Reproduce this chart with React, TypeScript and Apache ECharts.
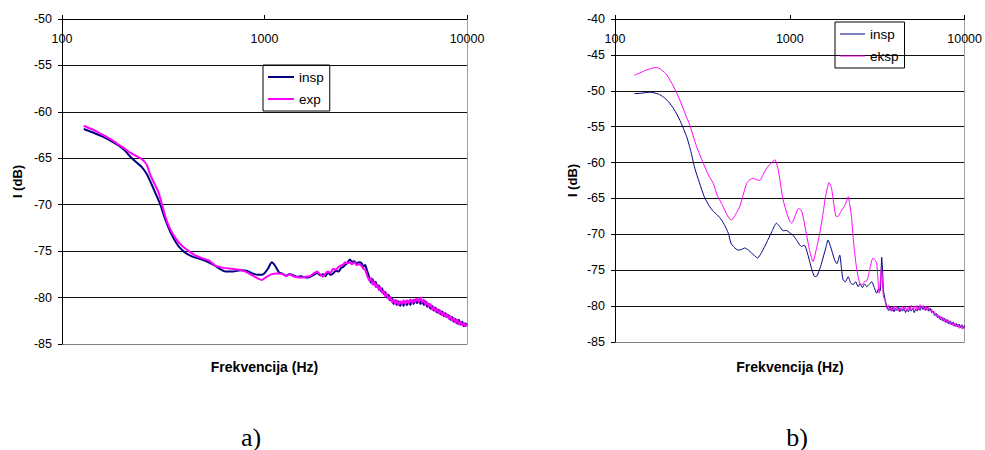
import React, { useEffect, useRef } from "react";
import * as echarts from "echarts";

// ---------- data: chart a) ----------
const A_INSP_FREQ = [128, 145, 158, 175, 191, 205, 217, 232, 248, 262, 273, 290, 306, 320, 336, 355, 377, 400, 423, 455, 491, 530, 572, 605, 641, 700, 760, 816, 870, 930, 985, 1040, 1085, 1130, 1180, 1220, 1280, 1330, 1386, 1450, 1520, 1590, 1674, 1750, 1820, 1880, 1943, 2000, 2060, 2120, 2181, 2250, 2320, 2390, 2446, 2500, 2560, 2640, 2700, 2780, 2850, 2920, 3020, 3080, 3140, 3200,
  3300, 3360, 3420, 3480, 3540, 3600, 3670, 3740, 3810, 3880, 3950, 4020, 4100, 4180, 4260, 4340, 4420, 4500, 4590, 4680, 4770, 4860, 4950, 5050, 5150, 5250, 5350, 5450, 5560, 5670, 5780, 5890, 6000, 6120, 6240, 6360, 6480, 6600, 6730, 6860, 6990, 7120, 7260, 7400, 7540, 7680, 7830, 7980, 8130, 8290, 8450, 8610, 8780, 8950, 9120, 9300, 9480, 9660, 9840, 10000];
const A_INSP_DB = [-61.85, -62.3, -62.65, -63.15, -63.65, -64.2, -64.8, -65.4, -65.95, -66.7, -67.5, -68.8, -70.0, -71.3, -72.5, -73.6, -74.5, -75.05, -75.4, -75.7, -75.9, -76.2, -76.6, -76.95, -77.2, -77.2, -77.05, -77.1, -77.4, -77.55, -77.5, -76.9, -76.2, -76.6, -77.3, -77.4, -77.65, -77.45, -77.6, -77.75, -77.7, -77.85, -77.8, -77.55, -77.35, -77.6, -77.5, -77.7, -77.3, -77.55, -77.4, -77.1, -77.2, -76.8, -76.7, -76.5, -76.3, -75.9, -76.15, -76.1, -76.35, -76.2, -76.3, -76.7, -76.5, -77.0,
  -77.9, -78.4, -78.0, -78.6, -78.3, -78.9, -78.7, -79.3, -79.0, -79.6, -79.4, -80.0, -79.7, -80.3, -80.1, -80.7, -80.3, -80.8, -80.4, -80.9, -80.5, -80.9, -80.4, -80.8, -80.4, -80.8, -80.3, -80.7, -80.2, -80.6, -80.2, -80.7, -80.3, -80.8, -80.4, -81.0, -80.7, -81.2, -80.9, -81.4, -81.1, -81.6, -81.3, -81.8, -81.5, -82.0, -81.7, -82.1, -81.9, -82.4, -82.1, -82.6, -82.3, -82.8, -82.4, -82.9, -82.6, -83.1, -82.8, -83.0];

const A_EXP_FREQ = [128, 145, 158, 175, 191, 205, 217, 232, 248, 262, 273, 290, 300, 312, 324, 340, 363, 390, 423, 455, 491, 530, 572, 630, 690, 750, 804, 870, 930, 972, 1020, 1080, 1145, 1220, 1280, 1330, 1386, 1450, 1520, 1590, 1674, 1750, 1820, 1880, 1943, 2000, 2060, 2120, 2181, 2250, 2320, 2390, 2446, 2500, 2560, 2640, 2700, 2780, 2850, 2920, 3020, 3080, 3140, 3200,
  3300, 3360, 3420, 3480, 3540, 3600, 3670, 3740, 3810, 3880, 3950, 4020, 4100, 4180, 4260, 4340, 4420, 4500, 4590, 4680, 4770, 4860, 4950, 5050, 5150, 5250, 5350, 5450, 5560, 5670, 5780, 5890, 6000, 6120, 6240, 6360, 6480, 6600, 6730, 6860, 6990, 7120, 7260, 7400, 7540, 7680, 7830, 7980, 8130, 8290, 8450, 8610, 8780, 8950, 9120, 9300, 9480, 9660, 9840, 10000];
const A_EXP_DB = [-61.5, -62.0, -62.45, -63.0, -63.55, -64.0, -64.4, -64.75, -65.1, -65.7, -66.8, -68.0, -68.7, -70.0, -71.3, -72.5, -73.6, -74.4, -75.0, -75.45, -75.75, -76.0, -76.55, -76.8, -76.9, -77.0, -77.2, -77.6, -77.95, -78.1, -77.8, -77.5, -77.4, -77.45, -77.7, -77.5, -77.7, -77.8, -77.85, -77.75, -77.7, -77.4, -77.2, -77.5, -77.75, -77.4, -77.2, -77.35, -76.9, -77.0, -76.7, -76.55, -76.45, -76.2, -76.3, -76.2, -76.4, -76.2, -76.5, -76.4, -76.6, -76.9, -77.0, -77.5,
  -78.2, -77.9, -78.6, -78.3, -78.9, -78.6, -79.2, -78.9, -79.5, -79.3, -79.9, -79.6, -80.2, -79.9, -80.5, -80.2, -80.7, -80.3, -80.8, -80.4, -80.7, -80.3, -80.7, -80.3, -80.6, -80.2, -80.6, -80.2, -80.5, -80.1, -80.5, -80.0, -80.5, -80.2, -80.8, -80.5, -81.0, -80.7, -81.3, -81.0, -81.5, -81.2, -81.7, -81.4, -81.9, -81.6, -82.1, -81.8, -82.3, -82.0, -82.5, -82.2, -82.7, -82.4, -82.9, -82.6, -83.0, -82.7, -83.1, -82.9];

// ---------- data: chart b) ----------
const B_INSP_FREQ = [129, 140, 158, 177, 190, 202, 218, 235, 257, 272, 286, 304, 324, 345, 365, 385, 407, 425, 445, 460, 480, 506, 530, 552, 580, 604, 630, 654, 690, 735, 790, 838, 875, 915, 954, 1000, 1050, 1100, 1140, 1167, 1210, 1247, 1300, 1340, 1389, 1430, 1500, 1560, 1610, 1654, 1700, 1750, 1807, 1860, 1931, 1975, 2018, 2080, 2157, 2230, 2305, 2380, 2460, 2520, 2600, 2680, 2750, 2840, 2940, 3040, 3140, 3220, 3290, 3355, 3400, 3430, 3500,
  3600, 3670, 3740, 3810, 3880, 3950, 4020, 4100, 4180, 4260, 4340, 4420, 4500, 4590, 4680, 4770, 4860, 4950, 5050, 5150, 5250, 5350, 5450, 5560, 5670, 5780, 5890, 6000, 6120, 6240, 6360, 6480, 6600, 6730, 6860, 6990, 7120, 7260, 7400, 7540, 7680, 7830, 7980, 8130, 8290, 8450, 8610, 8780, 8950, 9120, 9300, 9480, 9660, 9840, 10000];
const B_INSP_DB = [-50.4, -50.35, -50.2, -50.45, -50.9, -51.5, -52.6, -54.1, -56.4, -58.5, -60.8, -62.8, -64.75, -66.0, -66.8, -67.3, -68.0, -68.8, -69.85, -71.2, -71.8, -72.2, -72.1, -71.9, -72.2, -72.6, -73.0, -73.3, -72.5, -71.2, -69.6, -68.45, -68.9, -69.5, -69.45, -69.8, -70.2, -70.9, -71.5, -71.7, -71.5, -72.2, -73.8, -75.0, -75.9, -75.8, -74.5, -73.0, -71.8, -70.8, -71.5, -72.5, -73.6, -74.1, -72.9, -74.8, -76.35, -76.6, -75.9, -76.8, -77.0, -76.6, -77.3, -76.9, -77.4, -76.9, -77.3, -77.0, -76.6, -77.4, -78.2, -77.6, -77.9, -73.2, -75.5, -77.7, -79.0,
  -80.1, -80.6, -80.0, -80.7, -80.2, -80.8, -80.3, -80.6, -80.1, -80.8, -80.3, -80.7, -80.2, -80.9, -80.4, -80.8, -80.2, -80.7, -80.3, -80.9, -80.4, -80.7, -80.1, -80.6, -80.0, -80.5, -80.1, -80.6, -80.0, -80.7, -80.3, -80.9, -80.7, -81.3, -81.0, -81.6, -81.3, -81.9, -81.5, -82.1, -81.7, -82.3, -81.9, -82.5, -82.1, -82.6, -82.2, -82.8, -82.4, -82.9, -82.5, -83.0, -82.6, -83.1, -82.7];

const B_EKSP_FREQ = [129, 145, 160, 173, 185, 198, 215, 235, 252, 268, 293, 320, 345, 365, 385, 407, 430, 450, 464, 490, 518, 540, 566, 590, 619, 645, 674, 700, 736, 780, 822, 858, 885, 915, 960, 1000, 1023, 1070, 1120, 1160, 1190, 1250, 1300, 1357, 1420, 1484, 1540, 1600, 1677, 1730, 1790, 1840, 1890, 1960, 2050, 2100, 2157, 2200, 2252, 2300, 2350, 2420, 2520, 2600, 2680, 2750, 2800, 2880, 2990, 3060, 3140, 3190, 3240, 3290, 3340, 3380, 3430, 3500,
  3600, 3670, 3740, 3810, 3880, 3950, 4020, 4100, 4180, 4260, 4340, 4420, 4500, 4590, 4680, 4770, 4860, 4950, 5050, 5150, 5250, 5350, 5450, 5560, 5670, 5780, 5890, 6000, 6120, 6240, 6360, 6480, 6600, 6730, 6860, 6990, 7120, 7260, 7400, 7540, 7680, 7830, 7980, 8130, 8290, 8450, 8610, 8780, 8950, 9120, 9300, 9480, 9660, 9840, 10000];
const B_EKSP_DB = [-47.85, -47.3, -46.9, -46.75, -47.1, -47.8, -49.3, -51.3, -53.2, -54.8, -57.8, -60.1, -61.9, -62.9, -64.6, -65.7, -66.9, -67.8, -68.0, -67.2, -66.1, -64.6, -62.9, -62.4, -62.2, -62.4, -62.5, -61.8, -60.8, -60.1, -59.6, -61.0, -63.0, -65.2, -67.0, -68.2, -68.45, -67.5, -66.4, -66.6, -67.5, -70.2, -72.3, -73.8, -72.0, -69.85, -67.5, -64.8, -62.8, -63.5, -66.0, -67.5, -67.5, -66.8, -66.1, -65.5, -64.75, -65.8, -67.5, -70.2, -72.6, -75.0, -76.9, -77.0, -76.6, -76.5, -76.0, -74.6, -73.3, -73.5, -74.0, -76.0, -78.2, -76.8, -74.6, -76.5, -78.6, -79.2,
  -80.4, -79.9, -80.6, -80.1, -80.7, -80.0, -80.6, -80.1, -80.7, -80.2, -80.6, -80.0, -80.6, -80.1, -80.7, -80.1, -80.6, -79.9, -80.5, -80.0, -80.6, -79.9, -80.5, -79.8, -80.4, -79.9, -80.5, -80.0, -80.6, -80.2, -80.7, -80.4, -81.0, -80.8, -81.4, -81.1, -81.7, -81.4, -82.0, -81.6, -82.2, -81.8, -82.4, -82.0, -82.6, -82.2, -82.8, -82.4, -82.9, -82.5, -83.1, -82.7, -83.2, -82.8, -83.0];

const X_TICKS = [100, 1000, 10000];
const X_TITLE = "Frekvencija (Hz)";
const Y_TITLE = "I (dB)";

const NAVY = "#000080";
const MAGENTA = "#FF00FF";
const SANS = "'Liberation Sans', Arial, sans-serif";
const SERIF = "'Liberation Serif', 'Times New Roman', serif";

function zip(f: number[], v: number[]) {
  return f.map((x, i) => [x, v[i]]);
}

type Cfg = {
  grid: { left: number; top: number; width: number; height: number };
  yMin: number;
  yMax: number;
  series: { name: string; freq: number[]; db: number[]; color: string }[];
  lineWidth: number;
  legend: { left: number; top: number; itemWidth: number };
  yTitleX: number;
  caption: string;
  captionX: number;
};

function buildOption(c: Cfg): any {
  const nTicks = (c.yMax - c.yMin) / 5 + 1;
  const splitColors = Array.from({ length: nTicks }, (_, i) => (i === 0 ? "#808080" : "#111111"));
  const g = c.grid;
  return {
    animation: false,
    backgroundColor: "#ffffff",
    textStyle: { fontFamily: SANS },
    grid: { left: g.left, top: g.top, width: g.width, height: g.height, containLabel: false },
    legend: {
      data: c.series.map((s) => ({ name: s.name, icon: "rect" })),
      orient: "vertical",
      left: c.legend.left,
      top: c.legend.top,
      borderColor: "#000",
      borderWidth: 1,
      padding: [5, 6, 5, 5],
      itemWidth: c.legend.itemWidth,
      itemHeight: c.lineWidth,
      itemGap: 8,
      textStyle: { fontSize: 13.5, lineHeight: 14, color: "#000", fontFamily: SANS },
    },
    xAxis: {
      type: "log",
      logBase: 10,
      min: X_TICKS[0],
      max: X_TICKS[X_TICKS.length - 1],
      position: "top",
      axisLine: { show: true, lineStyle: { color: "#000", width: 1 } },
      axisTick: { show: true, inside: false, length: 4, lineStyle: { color: "#000" } },
      axisLabel: {
        inside: true,
        margin: 13,
        fontSize: 12.5,
        color: "#000",
        fontFamily: SANS,
        showMinLabel: true,
        showMaxLabel: true,
        formatter: (v: number) => String(Math.round(v)),
      },
      splitLine: { show: false },
      minorTick: { show: false },
    },
    yAxis: [
      {
        type: "value",
        min: c.yMin,
        max: c.yMax,
        interval: 5,
        axisLine: { show: true, onZero: false, lineStyle: { color: "#000", width: 1 } },
        axisTick: { show: true, length: 4, lineStyle: { color: "#000" } },
        axisLabel: { margin: 10, fontSize: 12.5, color: "#000", fontFamily: SANS },
        splitLine: { show: true, lineStyle: { color: splitColors, width: 1 } },
      },
      {
        type: "value",
        min: c.yMin,
        max: c.yMax,
        interval: 5,
        position: "right",
        axisLine: { show: true, onZero: false, lineStyle: { color: "#a0a0a0", width: 1 } },
        axisTick: { show: false },
        axisLabel: { show: false },
        splitLine: { show: false },
      },
    ],
    series: c.series.map((s) => ({
      name: s.name,
      type: "line",
      data: zip(s.freq, s.db),
      symbol: "none",
      smooth: 0.2,
      color: s.color,
      lineStyle: { color: s.color, width: c.lineWidth },
      itemStyle: { color: s.color },
      z: s.color === MAGENTA ? 3 : 2,
    })),
    graphic: [
      {
        type: "text",
        x: c.yTitleX,
        y: g.top + g.height / 2,
        rotation: Math.PI / 2,
        style: {
          text: Y_TITLE,
          align: "center",
          verticalAlign: "middle",
          fontSize: 13,
          fontWeight: "bold",
          fontFamily: SANS,
          fill: "#000",
        },
      },
      {
        type: "text",
        x: g.left + g.width / 2,
        y: 367,
        style: {
          text: X_TITLE,
          align: "center",
          verticalAlign: "middle",
          fontSize: 14,
          fontWeight: "bold",
          fontFamily: SANS,
          fill: "#000",
        },
      },
      {
        type: "text",
        x: c.captionX,
        y: 437,
        style: {
          text: c.caption,
          align: "center",
          verticalAlign: "middle",
          fontSize: 26,
          fontFamily: SERIF,
          fill: "#000",
        },
      },
    ],
  };
}

function ChartPanel({ left, width, cfg }: { left: number; width: number; cfg: Cfg }) {
  const ref = useRef<HTMLDivElement>(null);
  useEffect(() => {
    if (!ref.current) return;
    const chart = echarts.init(ref.current, undefined, { renderer: "svg" });
    chart.setOption(buildOption(cfg));
    return () => chart.dispose();
  }, []);
  return <div ref={ref} style={{ position: "absolute", left, top: 0, width, height: 450 }} />;
}

const CFG_A: Cfg = {
  grid: { left: 62, top: 19, width: 405, height: 325 },
  yMin: -85,
  yMax: -50,
  series: [
    { name: "insp", freq: A_INSP_FREQ, db: A_INSP_DB, color: NAVY },
    { name: "exp", freq: A_EXP_FREQ, db: A_EXP_DB, color: MAGENTA },
  ],
  lineWidth: 2,
  legend: { left: 263, top: 65, itemWidth: 26 },
  yTitleX: 17,
  caption: "a)",
  captionX: 251,
};

const CFG_B: Cfg = {
  grid: { left: 125, top: 19, width: 350, height: 323 },
  yMin: -85,
  yMax: -40,
  series: [
    { name: "insp", freq: B_INSP_FREQ, db: B_INSP_DB, color: NAVY },
    { name: "eksp", freq: B_EKSP_FREQ, db: B_EKSP_DB, color: MAGENTA },
  ],
  lineWidth: 1,
  legend: { left: 345, top: 22, itemWidth: 25 },
  yTitleX: 82,
  caption: "b)",
  captionX: 307,
};

export default function App() {
  return (
    <div style={{ position: "fixed", left: 0, top: 0, width: 985, height: 450, background: "#fff" }}>
      <ChartPanel left={0} width={490} cfg={CFG_A} />
      <ChartPanel left={490} width={495} cfg={CFG_B} />
    </div>
  );
}
